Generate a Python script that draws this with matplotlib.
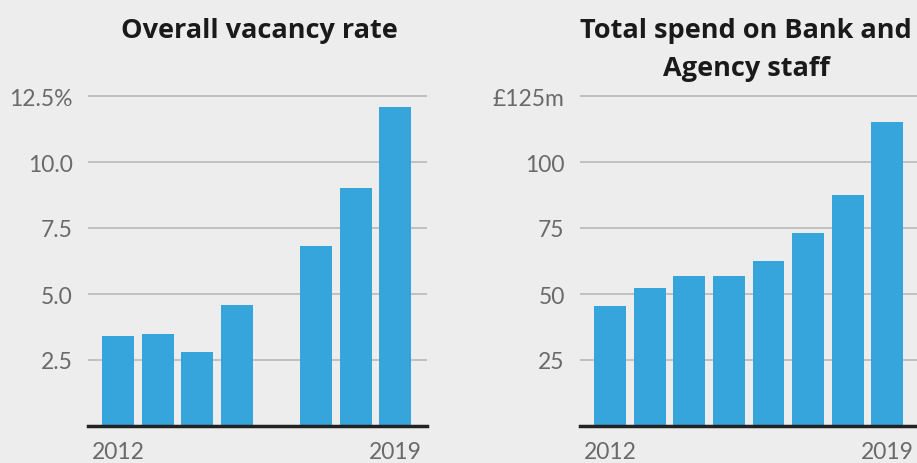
import matplotlib
matplotlib.use("Agg")
import matplotlib.pyplot as plt
import numpy as np

# data
vac_years = [2012, 2013, 2014, 2015, 2017, 2018, 2019]
vac_rate = [3.4, 3.5, 2.8, 4.6, 6.8, 9.0, 12.1]
vac_ticks = [2.5, 5.0, 7.5, 10.0, 12.5]
vac_labels = ["2.5", "5.0", "7.5", "10.0", "12.5%"]

spend_years = [2012, 2013, 2014, 2015, 2016, 2017, 2018, 2019]
spend = [45.5, 52.3, 56.7, 56.7, 62.4, 73.0, 87.5, 115.2]
spend_ticks = [25, 50, 75, 100, 125]
spend_labels = ["25", "50", "75", "100", "£125m"]

year_ticks = [2012, 2019]

BG = "#ededed"
BAR = "#36a5dc"
GRID = "#bdbdbd"
TXT = "#6a6a6a"

plt.rcParams["font.family"] = ["Lato", "DejaVu Sans"]

fig = plt.figure(figsize=(9.17, 4.64), dpi=100)
fig.patch.set_facecolor(BG)

W, H = 917, 464
px_per_unit_l = 330 / 12.5
px_per_unit_r = 330 / 125


def make_axes(x0_px, ymax, ppu):
    left = x0_px / W
    width = (927 - 588) / W
    bottom = (H - 427) / H
    height = ymax * ppu / H
    ax = fig.add_axes([left, bottom, width, height])
    ax.set_facecolor(BG)
    return ax


def style(ax, years, values, ticks, labels, ymax):
    x = np.array(years) - 2012
    ax.bar(x, values, width=0.8, color=BAR, zorder=3)
    ax.set_xlim(-0.76, 7.8)
    ax.set_ylim(0, ymax)
    ax.set_yticks(ticks)
    ax.set_yticklabels(labels)
    ax.set_xticks(np.array(year_ticks) - 2012)
    ax.set_xticklabels([str(y) for y in year_ticks])
    ax.grid(axis="y", color=GRID, lw=1.3, zorder=1)
    ax.axhline(0, color="#222222", lw=2.5, zorder=4, clip_on=False)
    for s in ax.spines.values():
        s.set_visible(False)
    ax.tick_params(axis="both", length=0, labelsize=16.5, labelcolor=TXT)
    ax.tick_params(axis="y", pad=11)
    ax.tick_params(axis="x", pad=11)


ax1 = make_axes(88, 13, px_per_unit_l)
style(ax1, vac_years, vac_rate, vac_ticks, vac_labels, 13)

ax2 = make_axes(580, 130, px_per_unit_r)
style(ax2, spend_years, spend, spend_ticks, spend_labels, 130)

title_font = ["Open Sans", "DejaVu Sans"]
fig.text(259 / W, 1 - 18 / H, "Overall vacancy rate", ha="center", va="top",
         fontsize=19.5, fontweight="bold", color="#1a1a1a", family=title_font)
fig.text(746 / W, 1 - 18 / H, "Total spend on Bank and\nAgency staff", ha="center",
         va="top", fontsize=19.5, fontweight="bold", color="#1a1a1a",
         family=title_font, linespacing=1.6)

fig.savefig("out.png", dpi=100, facecolor=BG)
